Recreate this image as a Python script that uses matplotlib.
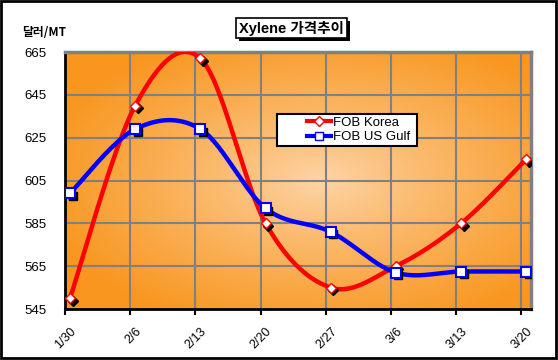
import numpy as np
import matplotlib
matplotlib.use("Agg")
import matplotlib.pyplot as plt
from matplotlib.patches import Rectangle
from matplotlib.transforms import offset_copy

plt.rcParams['font.family'] = ['Liberation Sans', 'Noto Sans CJK KR', 'DejaVu Sans']

# data
dates = ["1/30", "2/6", "2/13", "2/20", "2/27", "3/6", "3/13", "3/20"]
fob_korea = [550, 640, 662, 585, 555, 565, 585, 615]
fob_usgulf = [599, 629, 629, 592, 581, 562, 562.5, 562.5]
yticks = [545, 565, 585, 605, 625, 645, 665]


def smooth(xs, ys, n=40):
    # Excel-style smoothed line (Catmull-Rom bezier)
    xs = np.asarray(xs, float)
    ys = np.asarray(ys, float)
    px = np.concatenate([[xs[0]], xs, [xs[-1]]])
    py = np.concatenate([[ys[0]], ys, [ys[-1]]])
    outx, outy = [], []
    t = np.linspace(0, 1, n)
    for i in range(1, len(px) - 2):
        b0x, b0y = px[i], py[i]
        b3x, b3y = px[i + 1], py[i + 1]
        b1x = b0x + (px[i + 1] - px[i - 1]) / 6
        b1y = b0y + (py[i + 1] - py[i - 1]) / 6
        b2x = b3x - (px[i + 2] - px[i]) / 6
        b2y = b3y - (py[i + 2] - py[i]) / 6
        outx.extend((1-t)**3*b0x + 3*(1-t)**2*t*b1x + 3*(1-t)*t**2*b2x + t**3*b3x)
        outy.extend((1-t)**3*b0y + 3*(1-t)**2*t*b1y + 3*(1-t)*t**2*b2y + t**3*b3y)
    return np.array(outx), np.array(outy)


def px2fig(x0, y0, w, h):
    return (x0 / 558, 1 - (y0 + h) / 360), w / 558, h / 360


fig = plt.figure(figsize=(5.58, 3.6), dpi=100)
fig.patches.append(Rectangle((0.002, 0.006), 0.994, 0.99, transform=fig.transFigure,
                             fill=False, edgecolor="black", linewidth=2))
ax = fig.add_axes([65/558, 1 - 309/360, (531 - 65)/558, (309 - 52)/360])

x = np.arange(len(dates))
off = 5 / 65.2
xmin, xmax = -off, (531 - 70) / 65.2
ax.set_xlim(xmin, xmax)
ax.set_ylim(545, 665)

# orange "from centre" gradient fill
gx, gy = np.meshgrid(np.linspace(0, 1, 300), np.linspace(0, 1, 200))
r = np.sqrt(((gx - 0.55) / 0.62) ** 2 + ((gy - 0.5) / 0.62) ** 2)
r = np.clip(r, 0, 1) ** 0.85
c_in = np.array([253, 214, 170]) / 255
c_out = np.array([248, 150, 30]) / 255
img = c_in[None, None, :] * (1 - r[..., None]) + c_out[None, None, :] * r[..., None]
ax.imshow(img, extent=[xmin, xmax, 545, 665], aspect="auto", origin="lower", zorder=0)

for k in range(1, len(dates)):
    ax.axvline(k - off, color="#808080", lw=1.5, zorder=1)
for v in yticks[1:-1]:
    ax.axhline(v, color="#808080", lw=1.5, zorder=1)

sx, sy = smooth(x, fob_korea)
ax.plot(sx, sy, color="red", lw=3.2, zorder=3, solid_capstyle="round")
sx, sy = smooth(x, fob_usgulf)
ax.plot(sx, sy, color="blue", lw=3.2, zorder=3, solid_capstyle="round")

shadow = offset_copy(ax.transData, fig=fig, x=2.5, y=-2.5, units="dots")
ax.plot(x, fob_korea, "D", ms=5.5, color="black", transform=shadow, zorder=4)
ax.plot(x, fob_usgulf, "s", ms=6, color="black", transform=shadow, zorder=4)
ax.plot(x, fob_korea, "D", ms=5.5, mfc="white", mec="red", mew=1, zorder=5)
ax.plot(x, fob_usgulf, "s", ms=6.5, mfc="white", mec="blue", mew=1.5, zorder=5)

# legend box drawn by hand, entries placed inside it
xy, w, h = px2fig(277, 114, 140, 32)
fig.patches.append(Rectangle(xy, w, h, transform=fig.transFigure, facecolor="white",
                             edgecolor="black", lw=1.5, zorder=5))
ax.plot([], [], color="red", lw=3, marker="D", ms=5, mfc="white", mec="red", label="FOB Korea")
ax.plot([], [], color="blue", lw=3, marker="s", ms=6, mfc="white", mec="blue", label="FOB US Gulf")
leg = fig.legend(loc="center left", bbox_to_anchor=(307 / 558, 1 - 130 / 360),
                 fontsize=9.5, frameon=False, handlelength=1.8, handletextpad=0.2,
                 borderpad=0, labelspacing=0.15, borderaxespad=0)
leg.set_zorder(6)

ax.set_yticks(yticks)
ax.set_yticklabels([str(v) for v in yticks], fontsize=9.5)
ax.set_xticks(x - off)
ax.set_xticklabels([])
ax.set_xticks(x, minor=True)
ax.set_xticklabels(dates, minor=True, rotation=45, ha="right", va="top",
                   rotation_mode="anchor", fontsize=9)
ax.tick_params(axis="x", which="major", length=4, width=1.5, direction="out")
ax.tick_params(axis="x", which="minor", length=0, pad=12)
ax.tick_params(axis="y", length=0, pad=13)

for s in ["left", "bottom"]:
    ax.spines[s].set_linewidth(2)
    ax.spines[s].set_color("black")
for s in ["top", "right"]:
    ax.spines[s].set_linewidth(2.5)
    ax.spines[s].set_color("#808080")

fig.text(22 / 558, 1 - 33 / 360, "달러/MT", fontsize=8.5, ha="left", va="center",
         weight="bold", family=['Noto Sans CJK KR', 'DejaVu Sans'])

# title box with drop shadow
xy, w, h = px2fig(239, 21, 111, 20)
fig.patches.append(Rectangle(xy, w, h, transform=fig.transFigure, facecolor="black"))
xy, w, h = px2fig(236, 18, 111, 20)
fig.patches.append(Rectangle(xy, w, h, transform=fig.transFigure, facecolor="white",
                             edgecolor="black", lw=1.2))
fig.text(291.5 / 558, 1 - 28.5 / 360, "Xylene 가격추이", fontsize=10.5, ha="center", va="center",
         weight="bold", family=['Liberation Sans', 'Noto Sans CJK KR'])

fig.savefig("out.png", dpi=100)
